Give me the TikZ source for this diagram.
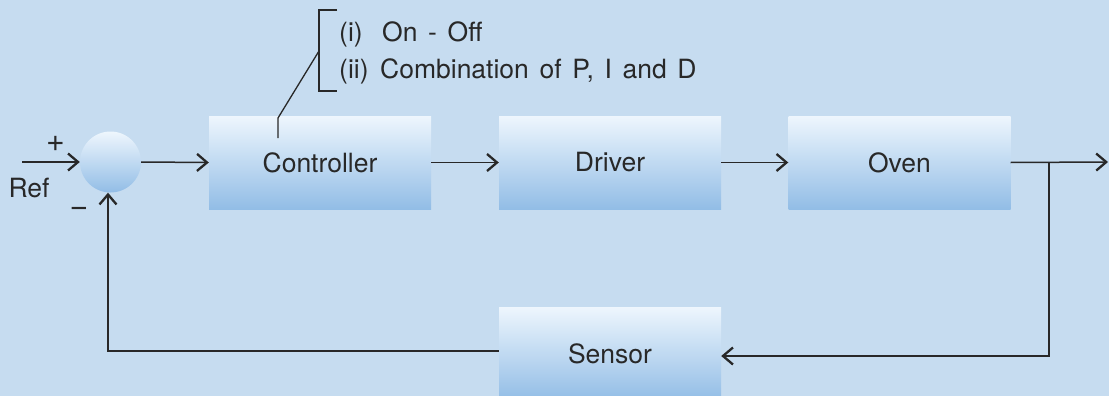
\documentclass[tikz,border=0pt]{standalone}
\usepackage{fontspec}
\setmainfont{TeX Gyre Heros}
\newfontfamily\annotfont[WordSpace=1.45]{TeX Gyre Heros}
\usetikzlibrary{arrows.meta}
\definecolor{bg}{RGB}{198,220,240}
\definecolor{boxtop}{RGB}{238,246,253}
\definecolor{boxbot}{RGB}{146,189,230}
\definecolor{ink}{RGB}{40,40,40}
\tikzset{
  blk/.style={rectangle, minimum width=222pt, minimum height=93pt, inner sep=0pt,
    top color=boxtop, bottom color=boxbot, draw=none, text=ink,
    font=\fontsize{26.5}{30}\selectfont},
  sumjn/.style={circle, minimum size=61pt, inner sep=0pt, top color=boxtop, bottom color=boxbot, draw=none},
  wire/.style={draw=ink, line width=1.5pt},
  arr/.style={wire, -{Straight Barb[length=10pt,width=17pt,line width=2.3pt]}},
  lbl/.style={text=ink, inner sep=0pt, font=\fontsize{26.5}{30}\selectfont},
  annot/.style={text=ink, inner sep=0pt, font=\annotfont\fontsize{26.5}{30}\selectfont},
  sml/.style={text=ink, inner sep=0pt, font=\fontsize{32}{36}\selectfont}
}
\begin{document}
\begin{tikzpicture}[x=1pt,y=-1pt]
\useasboundingbox (0,0) rectangle (1109,396);
\fill[bg] (0,0) rectangle (1109,396);
\clip (0,0) rectangle (1109,396);

\node[sumjn] (sum) at (110.5,162) {};
\node[blk] (ctrl) at (320,162.5) {Controller};
\node[blk] (drv) at (610,162.5) {Driver};
\node[blk] (oven) at (899.5,162.5) {Oven};
\node[blk] (sens) at (610,353.5) {Sensor};

\coordinate (in) at (22,162);
\coordinate (out) at (1108,162);
\coordinate (br) at (1049,162);
\coordinate (brd) at (1049,356);
\coordinate (fb) at (108,351);

\node[lbl, anchor=base] (ref) at (29,197) {Ref};
\node[sml] (plus) at (55.5,144) {+};
\node[sml] (minus) at (79,212) {−};

\draw[arr] (in) -- (sum.west);
\draw[arr] (sum.east) -- (ctrl.west);
\draw[arr] (ctrl.east) -- (drv.west);
\draw[arr] (drv.east) -- (oven.west);
\draw[arr] (oven.east) -- (out);
\draw[arr] (br) -- (brd) -- (sens.east |- brd);
\draw[arr] (sens.west |- fb) -- (fb) -- (sum.south -| fb);

% bracket annotation
\coordinate (bt) at (337,10);
\coordinate (bb) at (337,91);
\coordinate (bm) at (319,51);
\coordinate (cj) at (278,118);
\coordinate (cjd) at (278,138);
\draw[wire, line width=1.3pt] (bt) -- (319,10) -- (319,91) -- (bb);
\draw[wire, line width=1.3pt] (bm) -- (cj) -- (cjd);

\node[annot, anchor=base west] (i1) at (339,42) {(i)};
\node[annot, anchor=base west] (t1) at (382,42) {On - Off};
\node[annot, anchor=base west] (i2) at (339,78) {(ii)};
\node[annot, anchor=base west] (t2) at (380,78) {Combination of P, I and D};
\end{tikzpicture}
\end{document}
